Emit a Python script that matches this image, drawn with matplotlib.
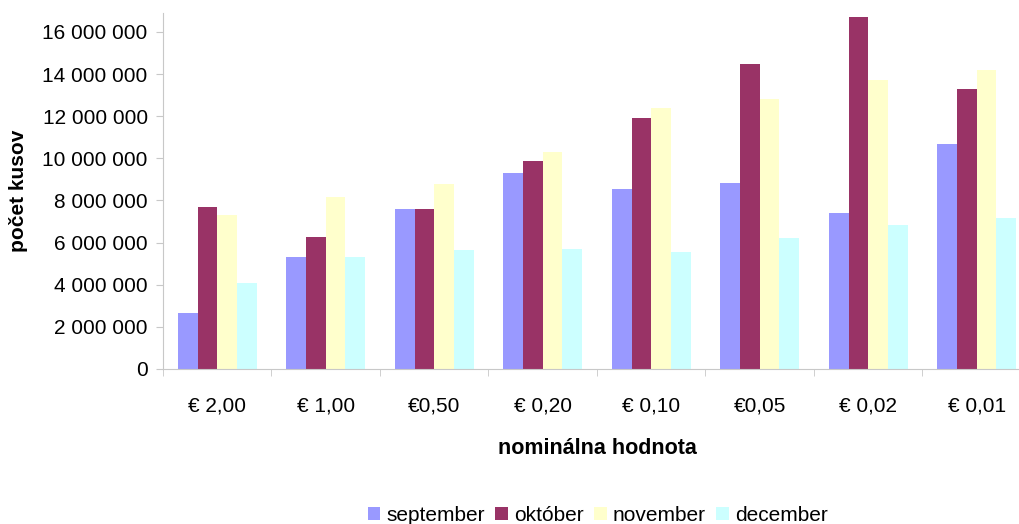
import matplotlib.pyplot as plt
import numpy as np
from matplotlib.ticker import FuncFormatter

# Hodnoty odčítané z grafu
nominaly = ["€ 2,00", "€ 1,00", "€0,50", "€ 0,20", "€ 0,10", "€0,05", "€ 0,02", "€ 0,01"]
september = [2.66e6, 5.32e6, 7.60e6, 9.30e6, 8.55e6, 8.82e6, 7.40e6, 10.70e6]
oktober = [7.69e6, 6.27e6, 7.60e6, 9.88e6, 11.90e6, 14.50e6, 16.70e6, 13.30e6]
november = [7.30e6, 8.17e6, 8.78e6, 10.30e6, 12.40e6, 12.80e6, 13.70e6, 14.20e6]
december = [4.08e6, 5.30e6, 5.65e6, 5.70e6, 5.57e6, 6.20e6, 6.85e6, 7.15e6]

mesiace = ["september", "október", "november", "december"]
farby = ["#9999FF", "#993366", "#FFFFCC", "#CCFFFF"]

plt.rcParams['font.family'] = ['Liberation Sans', 'DejaVu Sans']

fig = plt.figure(figsize=(10.2, 5.24), dpi=100)
ax = fig.add_axes([163 / 1020, 155 / 524, 868 / 1020, 356 / 524])

x = np.arange(len(nominaly))
sirka = 1 / 5.5
for i, (hodnoty, nazov, farba) in enumerate(zip([september, oktober, november, december], mesiace, farby)):
    ax.bar(x + (i - 1.5) * sirka, hodnoty, width=sirka, color=farba, label=nazov)

ax.set_xlim(-0.5, len(nominaly) - 0.5)
ax.set_ylim(0, 16.9e6)
ax.set_yticks(np.arange(0, 16.1e6, 2e6))
ax.yaxis.set_major_formatter(FuncFormatter(lambda v, _: f"{int(v):,}".replace(",", " ")))
ax.set_xticks(x)
ax.set_xticklabels(nominaly)
ax.set_xticks(np.arange(-0.5, len(nominaly)), minor=True)
ax.tick_params(axis='x', which='major', length=0, pad=20, labelsize=15)
ax.tick_params(axis='x', which='minor', length=5, color='#c8c8c8')
ax.tick_params(axis='y', length=5, color='#c8c8c8', labelsize=15, pad=6)

for strana in ['top', 'right']:
    ax.spines[strana].set_visible(False)
for strana in ['left', 'bottom']:
    ax.spines[strana].set_color('#c8c8c8')

ax.set_ylabel("počet kusov", fontsize=15, fontweight='bold', labelpad=10)
ax.set_xlabel("nominálna hodnota", fontsize=15.5, fontweight='bold', labelpad=16)

fig.legend(loc='lower center', bbox_to_anchor=(0.586, -0.038), ncol=4, frameon=False,
           fontsize=15, handlelength=0.6, handleheight=0.6, handletextpad=0.3,
           columnspacing=0.5)

fig.savefig("out.png", dpi=100)
